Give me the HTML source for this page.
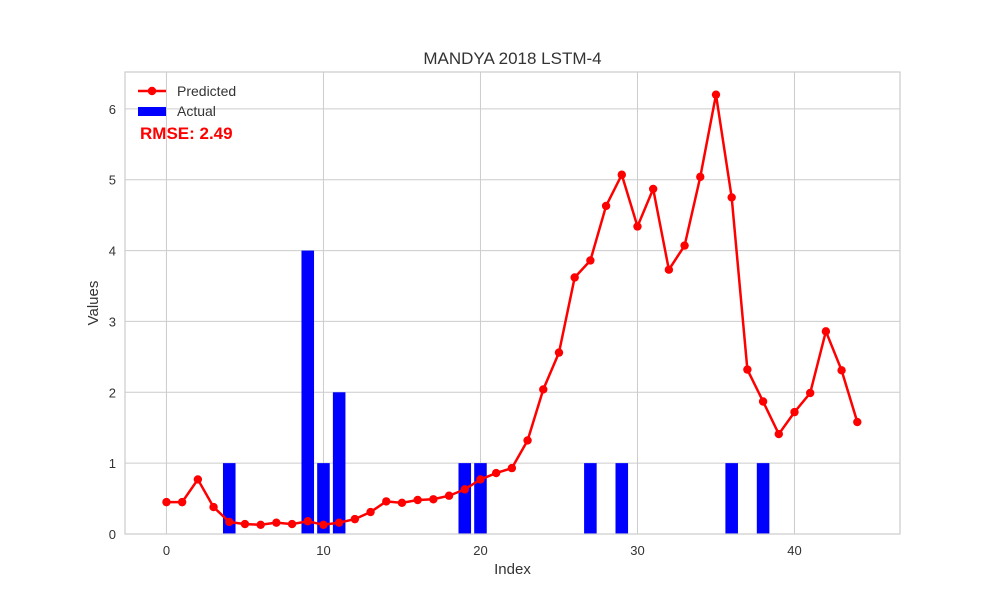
<!DOCTYPE html>
<html><head><meta charset="utf-8"><style>
body{margin:0;background:#fff;font-family:"Liberation Sans",sans-serif}
</style></head><body>
<svg id="chart" width="1000" height="600" xmlns="http://www.w3.org/2000/svg"></svg>
<script>
const predicted=[0.45,0.45,0.77,0.38,0.17,0.14,0.13,0.16,0.14,0.18,0.13,0.16,0.21,0.31,0.46,0.44,0.48,0.49,0.54,0.63,0.77,0.86,0.93,1.32,2.04,2.56,3.62,3.86,4.63,5.07,4.34,4.87,3.73,4.07,5.04,6.2,4.75,2.32,1.87,1.41,1.72,1.99,2.86,2.31,1.58];
const actualIdx=[4,9,10,11,19,20,27,29,36,38];
const actualVal=[1,4,1,2,1,1,1,1,1,1];
const xTicks=[0,10,20,30,40];
const yTicks=[0,1,2,3,4,5,6];
const rmseText="RMSE: 2.49";

const L=125,R=900,T=72,B=534;
const xMin=-2.64,xMax=46.72,yMin=0,yMax=6.52;
const sx=v=>L+(v-xMin)/(xMax-xMin)*(R-L);
const sy=v=>B-(v-yMin)/(yMax-yMin)*(B-T);
const svg=document.getElementById('chart');
const NS="http://www.w3.org/2000/svg";
function mk(tag,attrs,parent){const e=document.createElementNS(NS,tag);for(const k in attrs)e.setAttribute(k,attrs[k]);(parent||svg).appendChild(e);return e;}

const grid=mk('g',{});


xTicks.forEach(t=>{
  mk('line',{x1:sx(t),x2:sx(t),y1:T,y2:B,stroke:'#cccccc','stroke-width':1},grid);
  const tx=mk('text',{x:sx(t),y:B+21,'text-anchor':'middle','font-size':13,fill:'#333'});
  tx.textContent=t;
  
  
});
yTicks.forEach(t=>{
  mk('line',{x1:L,x2:R,y1:sy(t),y2:sy(t),stroke:'#cccccc','stroke-width':1},grid);
  const tx=mk('text',{x:L-9,y:sy(t)+5,'text-anchor':'end','font-size':13,fill:'#333'});
  tx.textContent=t;
  
  
});

const bars=mk('g',{});


actualIdx.forEach((x,i)=>{
  const w=sx(0.4)-sx(-0.4);
  const r=mk('rect',{x:sx(x)-w/2,y:sy(actualVal[i]),width:w,height:sy(0)-sy(actualVal[i]),fill:'#0000ff'},bars);
  
  
});

const line=mk('polyline',{points:predicted.map((v,i)=>sx(i)+','+sy(v)).join(' '),fill:'none',stroke:'#ff0000','stroke-width':2.5});


predicted.forEach((v,i)=>{
  const c=mk('circle',{cx:sx(i),cy:sy(v),r:4.2,fill:'#ff0000'});
  
  
});

const frame=mk('rect',{x:L,y:T,width:R-L,height:B-T,fill:'none',stroke:'#cccccc','stroke-width':1.2});



const title=mk('text',{x:(L+R)/2,y:64,'text-anchor':'middle','font-size':17,fill:'#333'});
title.textContent='MANDYA 2018 LSTM-4';


const xl=mk('text',{x:(L+R)/2,y:574,'text-anchor':'middle','font-size':15,fill:'#333'});
xl.textContent='Index';


const yl=mk('text',{x:98,y:(T+B)/2,'text-anchor':'middle','font-size':15,fill:'#333',transform:`rotate(-90 98 ${(T+B)/2})`});
yl.textContent='Values';



const lg=mk('g',{});


const l1=mk('g',{},lg);


mk('line',{x1:138,x2:166,y1:91,y2:91,stroke:'#ff0000','stroke-width':2.5},l1);
mk('circle',{cx:152,cy:91,r:4.2,fill:'#ff0000'},l1);
mk('text',{x:177,y:96,'font-size':14,fill:'#333'},l1).textContent='Predicted';
const l2=mk('g',{},lg);


mk('rect',{x:138,y:107,width:28,height:9,fill:'#0000ff'},l2);
mk('text',{x:177,y:116,'font-size':14,fill:'#333'},l2).textContent='Actual';
const rm=mk('text',{x:140,y:139,'font-size':17,'font-weight':'bold',fill:'#ff0000'});
rm.textContent=rmseText;


</script>
</body></html>
